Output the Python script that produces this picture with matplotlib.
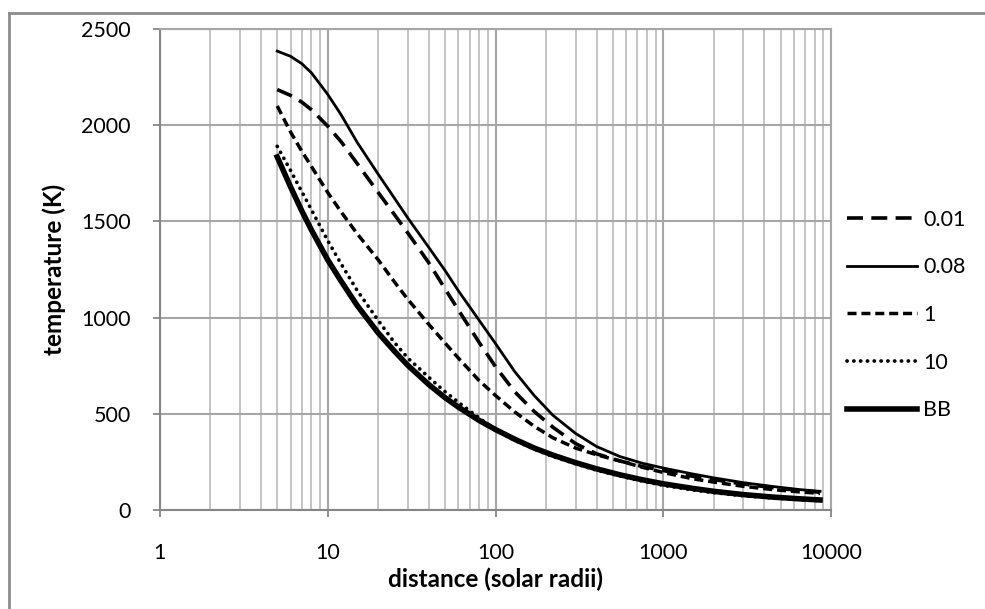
import numpy as np
import matplotlib.pyplot as plt
from matplotlib.lines import Line2D
from matplotlib.ticker import FixedLocator, NullFormatter

plt.rcParams['font.family'] = ['Lato', 'DejaVu Sans']
plt.rcParams['lines.scale_dashes'] = False

# distance from the star (solar radii)
distance = [5, 6, 7, 8, 10, 12, 15, 20, 25, 30, 40, 50, 60, 80, 100, 130, 170,
            220, 300, 400, 550, 750, 1000, 1500, 2000, 3000, 4500, 6500, 8600]

# temperature (K) for each grain size / blackbody
temp_001 = [2185, 2155, 2120, 2080, 1995, 1915, 1800, 1650, 1535, 1440, 1285, 1150, 1040,
            870, 745, 615, 512, 430, 345, 292, 255, 226, 205, 175, 158, 135, 116, 101, 92]
temp_008 = [2385, 2358, 2320, 2272, 2160, 2055, 1910, 1745, 1620, 1518, 1365, 1245, 1140,
            985, 865, 720, 595, 492, 398, 330, 278, 243, 218, 187, 167, 142, 122, 106, 97]
temp_1 = [2100, 1965, 1865, 1785, 1650, 1550, 1435, 1300, 1185, 1095, 965, 868, 790,
          672, 595, 510, 435, 375, 322, 287, 255, 222, 195, 162, 145, 123, 106, 94, 86]
temp_10 = [1890, 1765, 1655, 1560, 1400, 1280, 1140, 985, 870, 790, 690, 615, 560,
           478, 418, 362, 316, 278, 240, 207, 177, 150, 128, 104, 90, 74, 62, 54, 48]
temp_bb = [1835, 1680, 1555, 1455, 1300, 1190, 1062, 920, 825, 752, 652, 584, 535,
           465, 418, 368, 322, 285, 246, 214, 183, 157, 136, 112, 97, 80, 67, 58, 52]

series_labels = ["0.01", "0.08", "1", "10", "BB"]
x_ticks = [1, 10, 100, 1000, 10000]
x_tick_labels = ["1", "10", "100", "1000", "10000"]
y_ticks = [0, 500, 1000, 1500, 2000, 2500]

fig = plt.figure(figsize=(9.85, 6.09), dpi=100)
ax = fig.add_axes([0.1624, 0.1626, 0.6813, 0.7898])

ax.plot(distance, temp_001, color='black', lw=2.6, linestyle=(0, (11.5, 6)), label=series_labels[0])
ax.plot(distance, temp_008, color='black', lw=2.0, label=series_labels[1])
ax.plot(distance, temp_1, color='black', lw=2.5, linestyle=(0, (6.5, 3.5)), label=series_labels[2])
ax.plot(distance, temp_10, color='black', lw=2.7, linestyle=(0, (0.1, 4.8)),
        dash_capstyle='round', label=series_labels[3])
ax.plot(distance, temp_bb, color='black', lw=4.0, label=series_labels[4])

ax.set_xscale('log')
ax.set_xlim(1, 10000)
ax.set_ylim(0, 2500)
ax.xaxis.set_major_locator(FixedLocator(x_ticks))
ax.set_xticklabels(x_tick_labels)
ax.xaxis.set_minor_formatter(NullFormatter())
ax.set_yticks(y_ticks)

ax.grid(which='major', color='#a6a6a6', lw=1.5)
ax.grid(which='minor', axis='x', color='#c4c4c4', lw=1.4)
ax.set_axisbelow(True)

for side in ['left', 'bottom']:
    ax.spines[side].set_color('#868686')
    ax.spines[side].set_linewidth(1.5)
for side in ['top', 'right']:
    ax.spines[side].set_color('#a6a6a6')
    ax.spines[side].set_linewidth(1.5)

ax.tick_params(which='major', direction='out', length=5, width=1.3, color='#868686',
               labelsize=15.5)
ax.tick_params(axis='x', which='major', pad=19)
ax.tick_params(axis='y', which='major', pad=16)
ax.tick_params(which='minor', length=0)

ax.set_xlabel('distance (solar radii)', fontsize=17.5, fontweight='bold', labelpad=3)
ax.set_ylabel('temperature (K)', fontsize=17.5, fontweight='bold', labelpad=11)

ax.legend(loc='center left', bbox_to_anchor=(847 / 985, 1 - 315 / 609),
          bbox_transform=fig.transFigure, frameon=False, fontsize=15.5,
          handlelength=3.25, handletextpad=0.3, labelspacing=1.28,
          borderpad=0, borderaxespad=0)

# outer chart border (only top and left edges are inside the picture)
fig.add_artist(Line2D([9 / 985, 1.0], [1 - 13 / 609, 1 - 13 / 609], color='#8c8c8c',
                      lw=2, transform=fig.transFigure))
fig.add_artist(Line2D([9 / 985, 9 / 985], [0, 1 - 13 / 609], color='#8c8c8c',
                      lw=2, transform=fig.transFigure))

fig.savefig('out.png', dpi=100)
